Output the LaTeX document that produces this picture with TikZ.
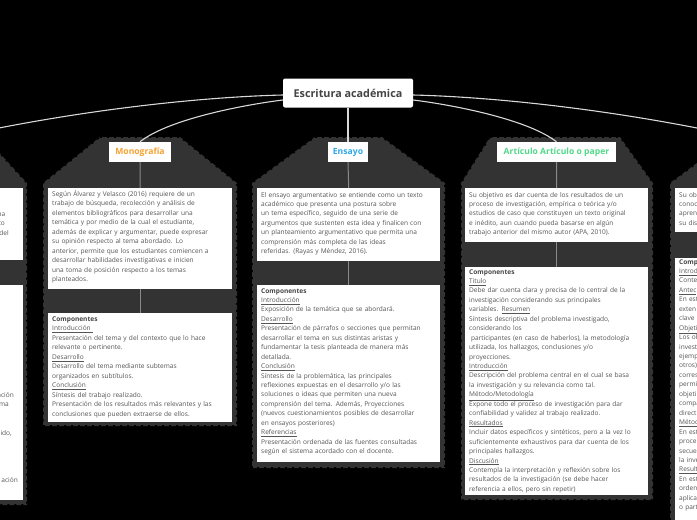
\documentclass[tikz,border=0pt]{standalone}
\usepackage{fontspec}
\setmainfont{Open Sans}
\definecolor{panelgray}{HTML}{333333}
\definecolor{txtgray}{HTML}{555555}
\definecolor{titlegray}{HTML}{444444}
\definecolor{monocol}{HTML}{F5A232}
\definecolor{enscol}{HTML}{2FA8E8}
\definecolor{artcol}{HTML}{52D88A}
\definecolor{linegray}{HTML}{D8D8D8}
\definecolor{sublinegray}{HTML}{8A8A8A}
\begin{document}
\begin{tikzpicture}[x=1pt,y=-1pt,
  panel/.style={fill=panelgray, draw=black, line width=1.6pt, dash pattern=on 2pt off 5pt},
  wbox/.style={fill=white, draw=none, rectangle, inner sep=0pt, anchor=north west},
  txt/.style={font=\fontsize{6.55}{9.45}\selectfont, text=txtgray, text width=200pt, align=left, inner sep=0pt, anchor=base west},
  frag/.style={font=\fontsize{6.55}{9.45}\selectfont, text=txtgray, inner sep=0pt, anchor=base east},
  lbl/.style={fill=white, rectangle, minimum height=20pt, inner xsep=3pt, font=\bfseries\fontsize{8.6}{10}\selectfont},
  root/.style={fill=white, rounded corners=2pt, minimum width=130pt, minimum height=29pt, font=\bfseries\fontsize{10.8}{13}\selectfont, text=titlegray},
  mainline/.style={draw=linegray, line width=1.1pt},
  subline/.style={draw=sublinegray, line width=1pt}]
\useasboundingbox (0,0) rectangle (697,520);
\fill[black] (0,0) rectangle (697,520);
\clip (0,0) rectangle (697,520);

% panels
\draw[panel] (-250,137) -- (-15,137) -- (27,183) -- (27,505) -- (-250,505) -- cycle;
\draw[panel] (100,137) -- (180,137) -- (237,183) -- (237,426) -- (43,426) -- (43,183) -- cycle;
\draw[panel] (315,137) -- (382,137) -- (445,183) -- (445,468) -- (252,468) -- (252,183) -- cycle;
\draw[panel] (490,137) -- (620,137) -- (653,183) -- (653,500) -- (461,500) -- (461,183) -- cycle;
\draw[panel] (732,137) -- (950,137) -- (950,580) -- (670,580) -- (670,183) -- cycle;

% root and labels
\node[root] (root) at (348,93) {Escritura académica};
\node[lbl, text=monocol, minimum width=62pt] (mono) at (140,152) {Monografía};
\node[lbl, text=enscol, minimum width=40pt] (ens) at (348,152) {Ensayo};
\node[lbl, text=artcol, minimum width=119pt] (art) at (556.5,152) {Artículo Artículo o paper};
\coordinate (offL) at (-40,136);
\coordinate (offR) at (736,136);

% main connectors
\draw[mainline] ([yshift=-2pt]root.west) .. controls (200,97) and (80,110) .. (offL);
\draw[mainline] ([yshift=-7pt]root.west) .. controls (250,104) and (170,118) .. (mono.north);
\draw[mainline] (root.south) -- (ens.north);
\draw[mainline] ([yshift=-7pt]root.east) .. controls (446,104) and (526,118) .. (art.north);
\draw[mainline] ([yshift=-2pt]root.east) .. controls (496,97) and (616,110) .. (offR);

% white boxes
\node[wbox, minimum width=183pt, minimum height=72pt] (l1) at (-160,188) {};
\node[wbox, minimum width=183pt, minimum height=215pt] (l2) at (-160,285) {};
\node[wbox, minimum width=184pt, minimum height=101pt] (m1) at (48,188) {};
\node[wbox, minimum width=184pt, minimum height=109pt] (m2) at (48,313) {};
\node[wbox, minimum width=183pt, minimum height=73pt] (e1) at (257,188) {};
\node[wbox, minimum width=183pt, minimum height=177pt] (e2) at (257,285) {};
\node[wbox, minimum width=183pt, minimum height=54pt] (a1) at (465,188) {};
\node[wbox, minimum width=183pt, minimum height=228pt] (a2) at (465,267) {};
\node[wbox, minimum width=183pt, minimum height=44pt] (r1) at (675,188) {};
\node[wbox, minimum width=183pt, minimum height=300pt] (r2) at (675,258) {};

% sub connectors
\draw[subline] (mono.south) -- (m1.north);
\draw[subline] (m1.south) -- (m2.north);
\draw[subline] (ens.south) -- (e1.north);
\draw[subline] (e1.south) -- (e2.north);
\draw[subline] (art.south) -- (a1.north);
\draw[subline] (a1.south) -- (a2.north);

% texts: Monografía
\node[txt] (m1t) at (52,196.5) {Según Álvarez y Velasco (2016) requiere de un\\
trabajo de búsqueda, recolección y análisis de\\
elementos bibliográficos para desarrollar una\\
temática y por medio de la cual el estudiante,\\
además de explicar y argumentar, puede expresar\\
su opinión respecto al tema abordado. Lo\\
anterior, permite que los estudiantes comiencen a\\
desarrollar habilidades investigativas e inicien\\
una toma de posición respecto a los temas\\
planteados.};
\node[txt] (m2t) at (52,321.5) {\textbf{\color{titlegray}Componentes}\\
\underline{Introducción }\\
Presentación del tema y del contexto que lo hace\\
relevante o pertinente.\\
\underline{Desarrollo}\\
Desarrollo del tema mediante subtemas\\
organizados en subtítulos.\\
\underline{Conclusión}\\
Síntesis del trabajo realizado.\\
Presentación de los resultados más relevantes y las\\
conclusiones que pueden extraerse de ellos.};

% texts: Ensayo
\node[txt] (e1t) at (261,197) {El ensayo argumentativo se entiende como un texto\\
académico que presenta una postura sobre\\
un tema específico, seguido de una serie de\\
argumentos que sustenten esta idea y finalicen con\\
un planteamiento argumentativo que permita una\\
comprensión más completa de las ideas\\
referidas. (Rayas y Méndez, 2016).};
\node[txt] (e2t) at (261,293) {\textbf{\color{titlegray}Componentes}\\
\underline{Introducción}\\
Exposición de la temática que se abordará.\\
\underline{Desarrollo}\\
Presentación de párrafos o secciones que permitan\\
desarrollar el tema en sus distintas aristas y\\
fundamentar la tesis planteada de manera más\\
detallada.\\
\underline{Conclusión}\\
Síntesis de la problemática, las principales\\
reflexiones expuestas en el desarrollo y/o las\\
soluciones o ideas que permiten una nueva\\
comprensión del tema. Además, Proyecciones\\
(nuevos cuestionamientos posibles de desarrollar\\
en ensayos posteriores)\\
\underline{Referencias}\\
Presentación ordenada de las fuentes consultadas\\
según el sistema acordado con el docente.};

% texts: Artículo
\node[txt] (a1t) at (469,197) {Su objetivo es dar cuenta de los resultados de un\\
proceso de investigación, empírica o teórica y/o\\
estudios de caso que constituyen un texto original\\
e inédito, aun cuando pueda basarse en algún\\
trabajo anterior del mismo autor (APA, 2010).};
\node[txt] (a2t) at (469,274) {\textbf{\color{titlegray}Componentes}\\
\underline{Titulo}\\
Debe dar cuenta clara y precisa de lo central de la\\
investigación considerando sus principales\\
variables. \underline{Resumen}\\
Síntesis descriptiva del problema investigado,\\
considerando los\\
\hspace*{1.8pt}participantes (en caso de haberlos), la metodología\\
utilizada, los hallazgos, conclusiones y/o\\
proyecciones.\\
\underline{Introducción}\\
Descripción del problema central en el cual se basa\\
la investigación y su relevancia como tal.\\
\underline{Método/Metodología}\\
Expone todo el proceso de investigación para dar\\
confiabilidad y validez al trabajo realizado.\\
\underline{Resultados}\\
Incluir datos específicos y sintéticos, pero a la vez lo\\
suficientemente exhaustivos para dar cuenta de los\\
principales hallazgos.\\
\underline{Discusión}\\
Contempla la interpretación y reflexión sobre los\\
resultados de la investigación (se debe hacer\\
referencia a ellos, pero sin repetir)};

% texts: right partial branch
\node[txt] (r1t) at (679,197) {Su ob\\conoc\\apren\\su dis};
\node[txt] (r2t) at (679,264) {\textbf{\color{titlegray}Comp}\\
\underline{Introd}\\Conte\\\underline{Antec}\\En est\\exten\\clave\\\underline{Objeti}\\
Los ob\\invest\\ejemp\\otros)\\corres\\permi\\objeti\\compa\\direct\\\underline{Métod}\\
En est\\proce\\secue\\la inve\\\underline{Result}\\En est\\orden\\aplica\\o part};

% texts: left partial branch
\node[frag] (lf1) at (5.5,216) {na};
\node[frag] (lf2) at (5,225.5) {to};
\node[frag] (lf3) at (9,235) {del};
\node[frag] (lf4) at (14,397) {ación};
\node[frag] (lf5) at (9,406.5) {ma};
\node[frag] (lf6) at (12,435) {ido,};
\node[frag] (lf7) at (18,482.5) {ación};
\end{tikzpicture}
\end{document}
